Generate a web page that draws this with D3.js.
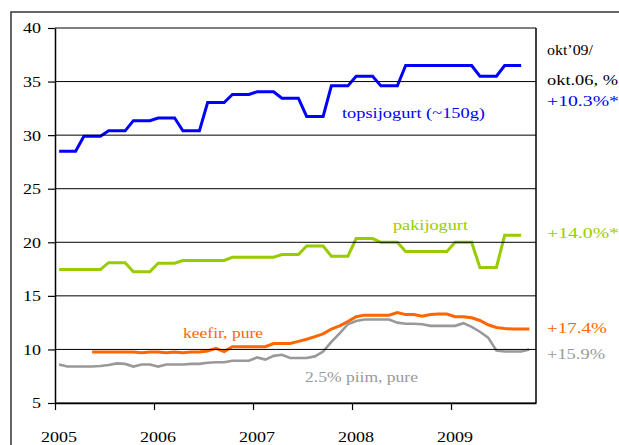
<!DOCTYPE html>
<html>
<head>
  <script src="https://d3js.org/d3.v7.min.js"></script>
  <style>
    body { margin: 0; background: #fff; }
    text { font-family: "Liberation Serif", "Times New Roman", serif; font-size: 14px; }
  </style>
</head>
<body>
  <script>
    // monthly values, Jan 2005 = index 0
    var years = ["2005", "2006", "2007", "2008", "2009"];
    var yTicks = [5, 10, 15, 20, 25, 30, 35, 40];

    var topsijogurt = [28.5, 28.5, 28.5, 29.9, 29.9, 29.9, 30.4, 30.4, 30.4, 31.35, 31.35, 31.35,
      31.6, 31.6, 31.6, 30.4, 30.4, 30.4, 33.05, 33.05, 33.05, 33.8, 33.8, 33.8,
      34.05, 34.05, 34.05, 33.45, 33.45, 33.45, 31.75, 31.75, 31.75, 34.6, 34.6, 34.6,
      35.5, 35.5, 35.5, 34.6, 34.6, 34.6, 36.5, 36.5, 36.5, 36.5, 36.5, 36.5,
      36.5, 36.5, 36.5, 35.5, 35.5, 35.5, 36.5, 36.5, 36.5];

    var pakijogurt = [17.45, 17.45, 17.45, 17.45, 17.45, 17.45, 18.1, 18.1, 18.1, 17.25, 17.25, 17.25,
      18.05, 18.05, 18.05, 18.3, 18.3, 18.3, 18.3, 18.3, 18.3, 18.6, 18.6, 18.6,
      18.6, 18.6, 18.6, 18.85, 18.85, 18.85, 19.65, 19.65, 19.65, 18.7, 18.7, 18.7,
      20.35, 20.35, 20.35, 20.0, 20.0, 20.0, 19.15, 19.15, 19.15, 19.15, 19.15, 19.15,
      20.0, 20.0, 20.0, 17.65, 17.65, 17.65, 20.65, 20.65, 20.65];

    var keefir = [null, null, null, null, 9.75, 9.75, 9.75, 9.75, 9.75, 9.75, 9.7, 9.75,
      9.75, 9.7, 9.75, 9.7, 9.75, 9.75, 9.85, 10.1, 9.8, 10.25, 10.25, 10.25,
      10.25, 10.25, 10.55, 10.55, 10.55, 10.75, 10.95, 11.2, 11.45, 11.9, 12.2, 12.6,
      13.05, 13.2, 13.2, 13.2, 13.2, 13.45, 13.25, 13.25, 13.1, 13.25, 13.3, 13.3,
      13.05, 13.05, 12.95, 12.7, 12.3, 12.05, 11.95, 11.9, 11.9, 11.9];

    var piim = [8.6, 8.4, 8.4, 8.4, 8.4, 8.45, 8.55, 8.7, 8.65, 8.4, 8.6, 8.6,
      8.4, 8.6, 8.6, 8.6, 8.65, 8.65, 8.75, 8.8, 8.8, 8.95, 8.95, 8.95,
      9.25, 9.05, 9.4, 9.5, 9.2, 9.2, 9.2, 9.35, 9.8, 10.7, 11.5, 12.35,
      12.65, 12.8, 12.8, 12.8, 12.8, 12.5, 12.4, 12.4, 12.35, 12.2, 12.2, 12.2,
      12.2, 12.45, 12.1, 11.65, 11.1, 9.9, 9.8, 9.8, 9.8, 10.0];

    var seriesNames = ["topsijogurt (~150g)", "pakijogurt", "keefir, pure", "2.5% piim, pure"];
    var changes = ["+10.3%*", "+14.0%*", "+17.4%", "+15.9%"];
    var colors = ["#0000ff", "#99cc00", "#ff6600", "#999999"];

    var width = 619, height = 445;
    var plot = { left: 55, right: 536, top: 28, bottom: 403 };

    var svg = d3.select("body").append("svg")
      .attr("width", width)
      .attr("height", height);

    // outer frame
    svg.append("rect")
      .attr("x", 11).attr("y", 12)
      .attr("width", 700).attr("height", 500)
      .attr("fill", "none")
      .attr("stroke", "#333")
      .attr("stroke-width", 1.5);

    var x = d3.scaleLinear().domain([0, 58.3]).range([plot.left, plot.right]);
    var y = d3.scaleLinear().domain([5, 40]).range([plot.bottom, plot.top]);

    var line = d3.line()
      .defined(function(d) { return d != null; })
      .x(function(d, i) { return x(i + 0.5); })
      .y(function(d) { return y(d); });

    var data = [topsijogurt, pakijogurt, keefir, piim];
    var widths = [3, 3, 3, 2.6];

    svg.selectAll(".series")
      .data(data)
      .enter()
      .append("path")
      .attr("class", "series")
      .attr("d", line)
      .attr("fill", "none")
      .attr("stroke", function(d, i) { return colors[i]; })
      .attr("stroke-width", function(d, i) { return widths[i]; });

    // gridlines drawn over the lines, as in the original
    svg.selectAll(".grid")
      .data(yTicks)
      .enter()
      .append("line")
      .attr("class", "grid")
      .attr("x1", plot.left).attr("x2", plot.right)
      .attr("y1", function(d) { return y(d); })
      .attr("y2", function(d) { return y(d); })
      .attr("stroke", "#000")
      .attr("stroke-width", 1);

    svg.append("line")
      .attr("x1", plot.right).attr("x2", plot.right)
      .attr("y1", plot.top).attr("y2", plot.bottom)
      .attr("stroke", "#000").attr("stroke-width", 1.5);

    var yAxis = svg.append("g")
      .attr("transform", "translate(" + plot.left + ",0)")
      .call(d3.axisLeft(y).tickValues(yTicks).tickSize(7).tickPadding(7).tickSizeOuter(0));

    var xAxis = svg.append("g")
      .attr("transform", "translate(0," + plot.bottom + ")")
      .call(d3.axisBottom(x).tickValues([0, 12, 24, 36, 48]).tickSize(7).tickSizeOuter(0)
        .tickFormat(function(d, i) { return years[i]; }));

    svg.selectAll(".domain").attr("stroke", "#000").attr("stroke-width", 1.5);
    svg.selectAll(".tick line").attr("stroke", "#000").attr("stroke-width", 1.2);

    yAxis.selectAll("text")
      .attr("font-family", null).attr("font-size", null)
      .attr("fill", "#000")
      .attr("dy", "0.35em")
      .attr("textLength", function(d) { return d < 10 ? 9 : 18; })
      .attr("lengthAdjust", "spacingAndGlyphs");

    xAxis.selectAll("text")
      .attr("font-family", null).attr("font-size", null)
      .attr("fill", "#000")
      .attr("x", 3.5)
      .attr("y", 39).attr("dy", 0)
      .attr("textLength", 36)
      .attr("lengthAdjust", "spacingAndGlyphs");

    // labels
    var labels = [
      { t: seriesNames[0], x: 342, y: 118, w: 143, c: colors[0] },
      { t: seriesNames[1], x: 393, y: 230, w: 75, c: colors[1] },
      { t: seriesNames[2], x: 183, y: 338, w: 80, c: colors[2] },
      { t: seriesNames[3], x: 305, y: 382, w: 113, c: colors[3] },
      { t: "okt\u201909/", x: 547, y: 55, w: 46, c: "#000" },
      { t: "okt.06, %", x: 547, y: 85, w: 71, c: "#000" },
      { t: changes[0], x: 547, y: 106, w: 72, c: colors[0] },
      { t: changes[1], x: 547, y: 238, w: 72, c: colors[1] },
      { t: changes[2], x: 547, y: 333, w: 60, c: colors[2] },
      { t: changes[3], x: 547, y: 359, w: 58, c: colors[3] }
    ];

    svg.selectAll(".label")
      .data(labels)
      .enter()
      .append("text")
      .attr("class", "label")
      .attr("x", function(d) { return d.x; })
      .attr("y", function(d) { return d.y; })
      .attr("fill", function(d) { return d.c; })
      .attr("textLength", function(d) { return d.w; })
      .attr("lengthAdjust", "spacingAndGlyphs")
      .text(function(d) { return d.t; });
  </script>
</body>
</html>
